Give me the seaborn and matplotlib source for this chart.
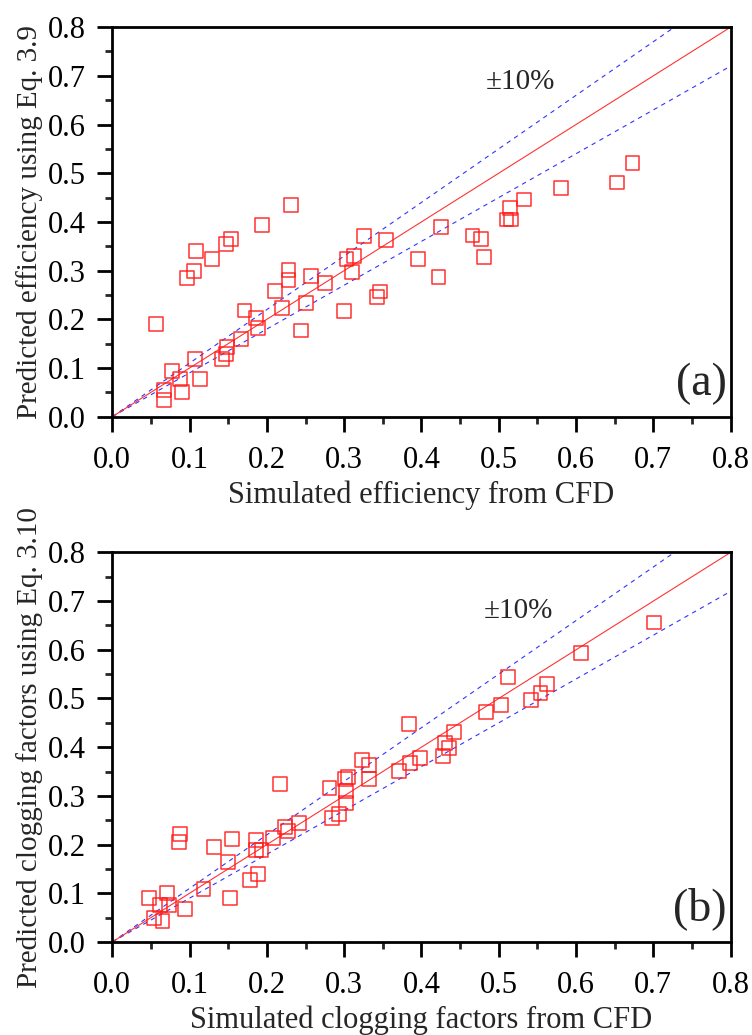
import numpy as np
import pandas as pd
import matplotlib
matplotlib.use("Agg")
import matplotlib.pyplot as plt
from matplotlib.ticker import MultipleLocator
import seaborn as sns

# Panel (a): simulated vs predicted efficiency
eff_sim = [0.056, 0.067, 0.067, 0.077, 0.088, 0.090, 0.107, 0.114, 0.097, 0.106,
           0.108, 0.129, 0.147, 0.154, 0.194, 0.231, 0.142, 0.147, 0.148, 0.166,
           0.171, 0.186, 0.189, 0.210, 0.228, 0.228, 0.220, 0.244, 0.251, 0.257,
           0.275, 0.300, 0.303, 0.313, 0.310, 0.326, 0.354, 0.343, 0.346, 0.395,
           0.422, 0.425, 0.466, 0.477, 0.481, 0.510, 0.516, 0.514, 0.533, 0.580,
           0.653, 0.673]
eff_pred = [0.190, 0.054, 0.035, 0.093, 0.077, 0.050, 0.119, 0.077, 0.284, 0.299,
            0.340, 0.323, 0.354, 0.365, 0.394, 0.434, 0.119, 0.128, 0.143, 0.159,
            0.218, 0.203, 0.183, 0.259, 0.281, 0.301, 0.224, 0.177, 0.234, 0.289,
            0.275, 0.217, 0.323, 0.330, 0.298, 0.371, 0.363, 0.246, 0.257, 0.323,
            0.287, 0.389, 0.372, 0.365, 0.328, 0.405, 0.405, 0.429, 0.446, 0.470,
            0.481, 0.521]

# Panel (b): simulated vs predicted clogging factors
clog_sim = [0.048, 0.054, 0.062, 0.065, 0.071, 0.073, 0.086, 0.088, 0.094, 0.118,
            0.132, 0.150, 0.152, 0.155, 0.178, 0.188, 0.186, 0.186, 0.193, 0.208,
            0.217, 0.227, 0.224, 0.241, 0.284, 0.293, 0.281, 0.302, 0.302, 0.301,
            0.305, 0.323, 0.332, 0.332, 0.371, 0.385, 0.398, 0.384, 0.428, 0.436,
            0.431, 0.442, 0.484, 0.503, 0.512, 0.542, 0.554, 0.562, 0.606, 0.701]
clog_pred = [0.090, 0.050, 0.076, 0.043, 0.101, 0.075, 0.205, 0.222, 0.068, 0.108,
             0.195, 0.164, 0.090, 0.211, 0.128, 0.139, 0.210, 0.189, 0.188, 0.214,
             0.325, 0.227, 0.236, 0.244, 0.255, 0.262, 0.317, 0.286, 0.310, 0.334,
             0.338, 0.373, 0.363, 0.334, 0.351, 0.367, 0.377, 0.447, 0.382, 0.398,
             0.408, 0.432, 0.473, 0.486, 0.544, 0.497, 0.512, 0.529, 0.593, 0.656]

line_x = [0.0, 0.8]
line_exact = [0.0, 0.8]
line_upper = [0.0, 0.88]
line_lower = [0.0, 0.72]

ticks = [0.0, 0.1, 0.2, 0.3, 0.4, 0.5, 0.6, 0.7, 0.8]

sns.set_theme(style="ticks")
plt.rcParams['font.family'] = ['Liberation Serif', 'DejaVu Serif']

fig = plt.figure(figsize=(7.52, 10.35), dpi=100)
ax_a = fig.add_axes([0.1493, 0.5974, 0.8223, 0.3764])
ax_b = fig.add_axes([0.1493, 0.0899, 0.8223, 0.3764])

panels = [
    (ax_a, eff_sim, eff_pred, "Simulated efficiency from CFD",
     "Predicted efficiency using Eq. 3.9", "(a)", (0.528, 0.687)),
    (ax_b, clog_sim, clog_pred, "Simulated clogging factors from CFD",
     "Predicted clogging factors using Eq. 3.10", "(b)", (0.525, 0.680)),
]

for ax, xs, ys, xl, yl, tag, pm_pos in panels:
    sns.lineplot(x=line_x, y=line_upper, ax=ax, color='#3333ff', lw=0.8,
                 linestyle=(0, (4, 4)), zorder=2)
    sns.lineplot(x=line_x, y=line_lower, ax=ax, color='#3333ff', lw=0.8,
                 linestyle=(0, (4, 4)), zorder=2)
    sns.lineplot(x=line_x, y=line_exact, ax=ax, color='#ff3333', lw=0.8, zorder=2)
    df = pd.DataFrame({"x": xs, "y": ys})
    sns.scatterplot(data=df, x="x", y="y", ax=ax, marker='s', s=100,
                    facecolors='none', edgecolor='#ff1a1a', linewidth=1.1,
                    alpha=0.9, zorder=3)
    ax.set_xlim(0, 0.8)
    ax.set_ylim(0, 0.8)
    ax.set_xticks(ticks)
    ax.set_yticks(ticks)
    ax.set_xticklabels([f"{t:.1f}" for t in ticks])
    ax.set_yticklabels([f"{t:.1f}" for t in ticks])
    ax.xaxis.set_minor_locator(MultipleLocator(0.05))
    ax.yaxis.set_minor_locator(MultipleLocator(0.05))
    ax.tick_params(which='major', direction='out', length=10.8, width=2,
                   labelsize=22, colors='black')
    ax.tick_params(which='minor', direction='out', length=5, width=2)
    ax.tick_params(axis='x', which='major', pad=10)
    ax.tick_params(axis='y', which='major', pad=8)
    ax.tick_params(top=False, right=False, which='both')
    for sp in ax.spines.values():
        sp.set_visible(True)
        sp.set_linewidth(2)
        sp.set_color('black')
    ax.set_xlabel(xl, fontsize=22, labelpad=4)
    ax.set_ylabel(yl, fontsize=21, labelpad=4)
    ax.text(pm_pos[0], pm_pos[1], "\u00b110%", fontsize=21, ha='center',
            va='center')
    ax.text(0.795, 0.024, tag, fontsize=33, ha='right', va='bottom')

fig.savefig("out.png", dpi=100, facecolor='white')
